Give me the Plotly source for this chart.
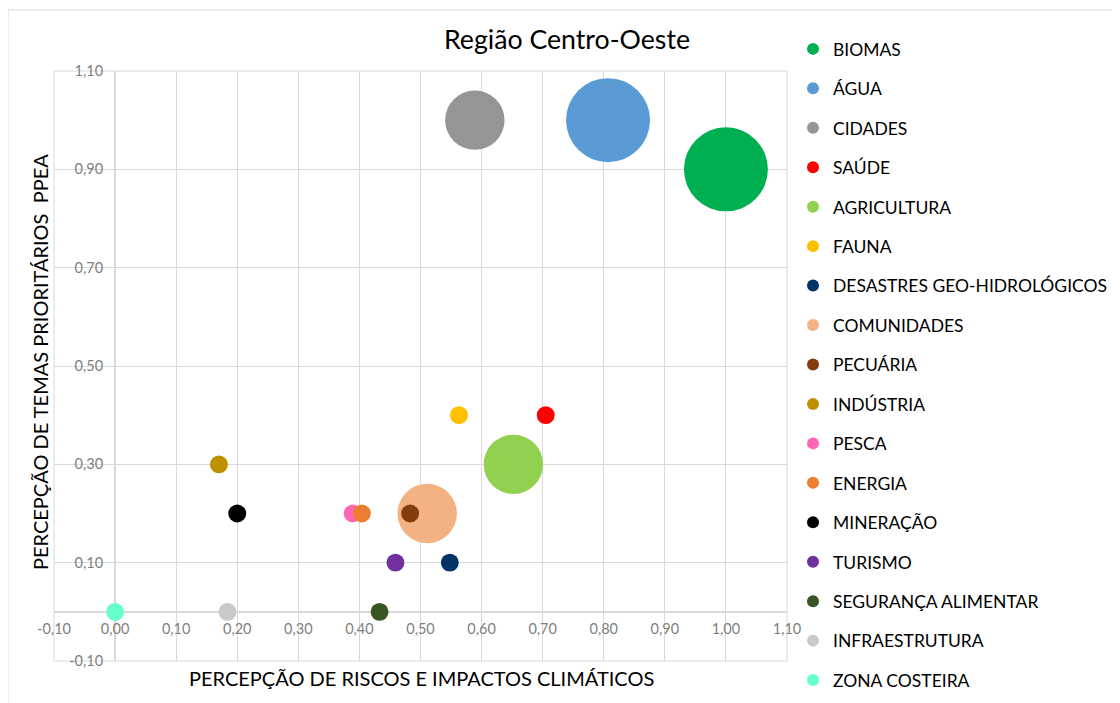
import plotly.graph_objects as go

# dados
temas = [
    "BIOMAS", "ÁGUA", "CIDADES", "SAÚDE", "AGRICULTURA", "FAUNA",
    "DESASTRES GEO-HIDROLÓGICOS", "COMUNIDADES", "PECUÁRIA", "INDÚSTRIA",
    "PESCA", "ENERGIA", "MINERAÇÃO", "TURISMO", "SEGURANÇA ALIMENTAR",
    "INFRAESTRUTURA", "ZONA COSTEIRA",
]
riscos = [1.00, 0.807, 0.589, 0.705, 0.652, 0.563, 0.548, 0.511, 0.483,
          0.170, 0.389, 0.404, 0.200, 0.459, 0.433, 0.184, 0.000]
ppea = [0.90, 1.00, 1.00, 0.40, 0.30, 0.40, 0.10, 0.20, 0.20,
        0.30, 0.20, 0.20, 0.20, 0.10, 0.00, 0.00, 0.00]
peso = [22, 22, 11, 1, 11, 1, 1, 11, 1, 1, 1, 1, 1, 1, 1, 1, 1]
cores = [
    "#00B050", "#5B9BD5", "#959595", "#FF0000", "#92D050", "#FFC000",
    "#003366", "#F4B183", "#843C0C", "#BF9000", "#FF66B3", "#ED7D31",
    "#000000", "#7030A0", "#375623", "#C9C9C9", "#66FFCC",
]

x_ticks = [-0.1, 0.0, 0.1, 0.2, 0.3, 0.4, 0.5, 0.6, 0.7, 0.8, 0.9, 1.0, 1.1]
y_ticks = [-0.1, 0.1, 0.3, 0.5, 0.7, 0.9, 1.1]


def fmt(v):
    return f"{v:.2f}".replace(".", ",")


FONT = "Lato"
GRID = "#D9D9D9"

fig = go.Figure()
for i, nome in enumerate(temas):
    fig.add_trace(go.Scatter(
        x=[riscos[i]],
        y=[ppea[i]],
        mode="markers",
        name=nome,
        legendgroup=nome,
        marker=dict(
            size=[peso[i]],
            sizemode="area",
            sizeref=2 * 22 / 84 ** 2,
            color=cores[i],
            opacity=1,
            line=dict(width=0),
        ),
    ))

fig.update_layout(
    width=1120,
    height=703,
    margin=dict(l=46, r=341, t=63, b=50, autoexpand=False),
    paper_bgcolor="white",
    plot_bgcolor="white",
    font=dict(family=FONT, color="#000000"),
    title=dict(
        text="Região Centro-Oeste",
        x=559 / 1120, xref="container", xanchor="center",
        y=1 - 32 / 703, yref="container", yanchor="middle",
        font=dict(size=26.7, family=FONT, color="#000000"),
    ),
    legend=dict(
        xref="container", yref="container",
        x=785 / 1120, xanchor="left",
        y=1 - 23 / 703, yanchor="top",
        font=dict(size=17.5, family=FONT, color="#000000"),
        itemsizing="constant",
        tracegroupgap=13.7,
        maxheight=703,
        bgcolor="rgba(0,0,0,0)",
    ),
    showlegend=True,
    xaxis=dict(
        range=[-0.1, 1.1],
        tickvals=x_ticks,
        ticktext=[fmt(v) for v in x_ticks],
        showgrid=True, gridcolor=GRID, gridwidth=1,
        zeroline=True, zerolinecolor=GRID, zerolinewidth=1.5,
        showline=False, ticks="",
        anchor="free", position=1 / 12, automargin=False,
        ticklabelstandoff=7,
        tickfont=dict(size=14.5, family=FONT, color="#7F7F7F"),
    ),
    yaxis=dict(
        range=[-0.1, 1.1],
        tickvals=y_ticks,
        ticktext=[fmt(v) for v in y_ticks],
        showgrid=True, gridcolor=GRID, gridwidth=1,
        zeroline=True, zerolinecolor=GRID, zerolinewidth=1.5,
        showline=False, ticks="",
        anchor="free", position=1 / 12, automargin=False,
        ticklabelstandoff=12,
        tickfont=dict(size=14.5, family=FONT, color="#7F7F7F"),
    ),
    shapes=[
        dict(type="rect", xref="paper", yref="paper",
             x0=0, x1=1, y0=0, y1=1, layer="below",
             line=dict(color=GRID, width=1)),
        dict(type="rect", xref="paper", yref="paper",
             x0=(8 - 54) / 733, x1=(1130 - 54) / 733,
             y0=(661 - 712) / 590, y1=(661 - 10) / 590,
             layer="below", line=dict(color=GRID, width=1)),
    ],
    annotations=[
        dict(text="PERCEPÇÃO DE RISCOS E IMPACTOS CLIMÁTICOS",
             xref="paper", yref="paper",
             x=(421 - 54) / 733, y=(661 - 678) / 590,
             xanchor="center", yanchor="middle", showarrow=False,
             font=dict(size=20, family=FONT, color="#000000")),
        dict(text="PERCEPÇÃO DE TEMAS PRIORITÁRIOS  PPEA",
             xref="paper", yref="paper",
             x=(40 - 54) / 733, y=(661 - 362) / 590,
             xanchor="center", yanchor="middle", textangle=-90,
             showarrow=False,
             font=dict(size=20, family=FONT, color="#000000")),
    ],
)

fig.write_html("out.html")
